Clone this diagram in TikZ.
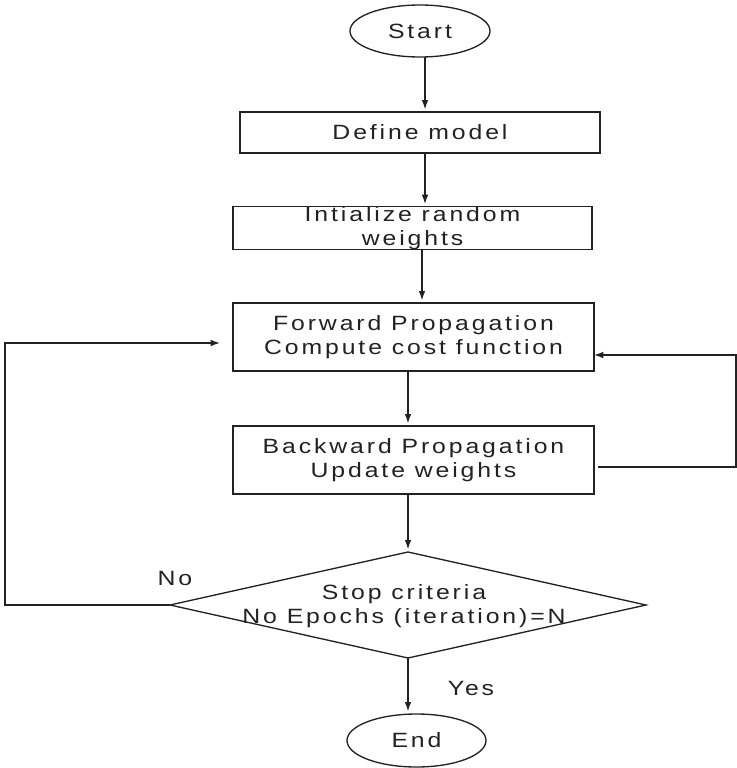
\documentclass[tikz,border=0pt]{standalone}
\usepackage{fontspec}
\setmainfont{Liberation Sans}[FakeStretch=1.2, LetterSpace=14]
\usetikzlibrary{shapes.geometric, arrows.meta, calc}

\definecolor{ink}{HTML}{222222}

\begin{document}
\begin{tikzpicture}[
  x=0.75pt, y=-0.75pt,
  every node/.style={text=ink, font=\fontsize{15.5}{17.5}\selectfont, outer sep=0pt},
  proc/.style={draw=ink, line width=1pt, rectangle, inner sep=0pt, align=center},
  term/.style={draw=ink, line width=1pt, ellipse, inner sep=0pt},
  decision/.style={draw=ink, line width=1pt, diamond, inner sep=0pt},
  lbl/.style={inner sep=0pt, align=center},
  link/.style={draw=ink, line width=1pt},
  arr/.style={link, -{Latex[length=7pt, width=5pt]}, shorten >=2pt},
]
\useasboundingbox (0,0) rectangle (737,768);

% flow nodes
\node[term, minimum width=140*0.75pt, minimum height=52*0.75pt] (start) at (420,31) {Start};
\node[proc, minimum width=360*0.75pt, minimum height=41*0.75pt] (define) at (420,132.5) {Define model};
\node[proc, minimum width=359*0.75pt, minimum height=42*0.75pt] (init) at (412.5,228) {Intialize random\\weights};
\node[proc, minimum width=361*0.75pt, minimum height=68*0.75pt] (fwd) at (413.5,337) {Forward Propagation\\Compute cost function};
\node[proc, minimum width=361*0.75pt, minimum height=68*0.75pt] (bwd) at (413.5,460) {Backward Propagation\\Update weights};
\node[decision, minimum width=476*0.75pt, minimum height=106*0.75pt] (stop) at (408,605) {};
\node[lbl] (stoptext) at (404,606) {Stop criteria\\No Epochs (iteration)=N};
\node[term, minimum width=139*0.75pt, minimum height=53*0.75pt] (end) at (416.5,740.5) {End};

% branch labels
\node[lbl] (no) at (175,578) {No};
\node[lbl] (yes) at (471,688) {Yes};

% corners of the feedback loops
\coordinate (lcorner) at (5,605);
\coordinate (rcorner) at (736,467);

% main flow
\draw[arr] ($(start.south)+(5,0)$) -- ($(define.north)+(5,0)$);
\draw[arr] ($(define.south)+(5,0)$) -- ($(init.north)+(12.5,0)$);
\draw[arr] ($(init.south)+(9.5,0)$) -- ($(fwd.north)+(8.5,0)$);
\draw[arr] (stop.north |- fwd.south) -- (stop.north |- bwd.north);
\draw[arr] (stop.north |- bwd.south) -- (stop.north);
\draw[arr] (stop.south) -- (stop.south |- end.north);

% feedback loops
\draw[arr, shorten >=0pt] (stop.west) -- (lcorner) |- ($(fwd.west)+(-13,6)$);
\draw[arr, shorten >=0pt] ($(bwd.east)+(4,7)$) -- (rcorner) |- ($(fwd.east)+(0,18)$);
\end{tikzpicture}
\end{document}
